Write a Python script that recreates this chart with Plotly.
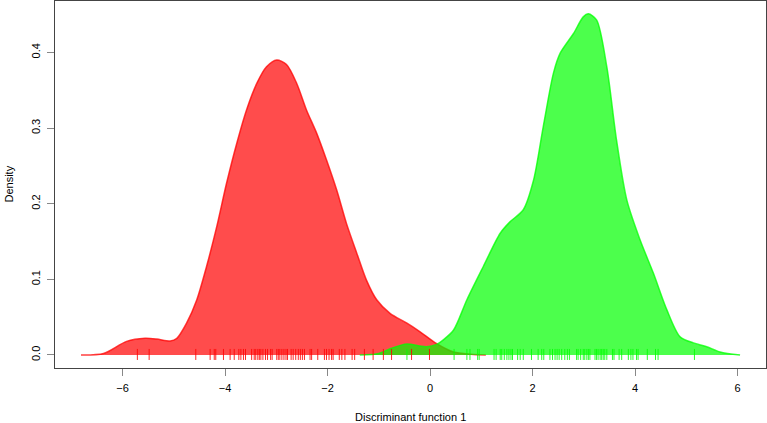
import plotly.graph_objects as go

# Density curve of group 1 (red)
red_x = [-6.81, -6.37, -5.92, -5.56, -5.33, -5.07, -4.94, -4.75, -4.55, -4.36, -4.16, -3.97,
         -3.77, -3.58, -3.38, -3.19, -2.99, -2.80, -2.60, -2.41, -2.21, -2.02, -1.82, -1.63,
         -1.43, -1.24, -1.04, -0.78, -0.45, -0.20, 0.13, 0.46, 0.80, 1.09]
red_y = [0.0, 0.002, 0.018, 0.022, 0.021, 0.0185, 0.022, 0.042, 0.073, 0.117, 0.170, 0.227,
         0.280, 0.324, 0.359, 0.381, 0.390, 0.384, 0.359, 0.324, 0.293, 0.258, 0.218, 0.174,
         0.135, 0.099, 0.073, 0.055, 0.042, 0.031, 0.015, 0.004, 0.001, 0.0]

# Density curve of group 2 (green)
green_x = [-1.37, -1.00, -0.75, -0.45, -0.20, -0.07, 0.13, 0.26, 0.46, 0.72, 1.04, 1.37, 1.56,
           1.82, 2.02, 2.21, 2.41, 2.54, 2.80, 2.99, 3.09, 3.25, 3.45, 3.64, 3.84, 4.10, 4.36,
           4.62, 4.88, 5.14, 5.40, 5.66, 6.05]
green_y = [0.0, 0.002, 0.009, 0.0145, 0.012, 0.011, 0.014, 0.020, 0.033, 0.073, 0.117, 0.161,
           0.176, 0.192, 0.231, 0.302, 0.373, 0.399, 0.425, 0.447, 0.451, 0.443, 0.381, 0.284,
           0.205, 0.152, 0.108, 0.060, 0.024, 0.016, 0.011, 0.004, 0.0]

# Rug (individual discriminant scores)
red_rug = [-5.71, -5.48, -4.57, -4.29, -4.21, -4.18, -4.03, -3.90, -3.82, -3.73, -3.69, -3.64,
           -3.60, -3.48, -3.43, -3.40, -3.36, -3.33, -3.30, -3.26, -3.21, -3.17, -3.11, -3.08,
           -2.99, -2.96, -2.93, -2.89, -2.85, -2.81, -2.78, -2.71, -2.67, -2.62, -2.57, -2.53,
           -2.49, -2.45, -2.34, -2.31, -2.19, -2.06, -2.02, -1.97, -1.92, -1.89, -1.77, -1.72,
           -1.66, -1.52, -1.47, -1.28, -1.11, -0.91, -0.75, -0.36, -0.01]
green_rug = [-0.45, 0.47, 0.72, 0.78, 0.93, 0.96, 1.25, 1.29, 1.37, 1.40, 1.45, 1.50, 1.54, 1.58,
             1.61, 1.71, 1.76, 1.82, 1.98, 2.11, 2.18, 2.22, 2.34, 2.39, 2.44, 2.48, 2.52, 2.57,
             2.63, 2.68, 2.72, 2.86, 2.89, 2.94, 2.99, 3.02, 3.06, 3.09, 3.12, 3.22, 3.25, 3.28,
             3.32, 3.35, 3.38, 3.41, 3.45, 3.56, 3.59, 3.69, 3.74, 3.87, 3.92, 3.96, 4.03, 4.06,
             4.24, 4.40, 4.45, 5.16]

x_ticks = [-6, -4, -2, 0, 2, 4, 6]
y_ticks = [0.0, 0.1, 0.2, 0.3, 0.4]
y_tick_text = ["0.0", "0.1", "0.2", "0.3", "0.4"]
x_title = "Discriminant function 1"
y_title = "Density"

RUG_LO, RUG_HI = -0.0066, 0.008


def rug_xy(vals):
    xs, ys = [], []
    for v in vals:
        xs += [v, v, None]
        ys += [RUG_LO, RUG_HI, None]
    return xs, ys


fig = go.Figure()
fig.add_trace(go.Scatter(x=red_x, y=red_y, mode="lines", line=dict(color="rgba(255,0,0,0.75)", width=1.5, shape="spline", smoothing=0.8),
                         fill="tozeroy", fillcolor="rgba(255,0,0,0.7)", hoverinfo="skip"))
fig.add_trace(go.Scatter(x=green_x, y=green_y, mode="lines", line=dict(color="rgba(0,255,0,0.75)", width=1.5, shape="spline", smoothing=0.8),
                         fill="tozeroy", fillcolor="rgba(0,255,0,0.7)", hoverinfo="skip"))
rx, ry = rug_xy(red_rug)
fig.add_trace(go.Scatter(x=rx, y=ry, mode="lines", line=dict(color="rgba(255,0,0,0.85)", width=1), hoverinfo="skip"))
gx, gy = rug_xy(green_rug)
fig.add_trace(go.Scatter(x=gx, y=gy, mode="lines", line=dict(color="rgba(0,255,0,0.85)", width=1), hoverinfo="skip"))

fig.update_layout(
    width=767, height=423,
    margin=dict(l=55, r=1, t=1, b=55, autoexpand=False),
    paper_bgcolor="white", plot_bgcolor="white",
    showlegend=False,
    font=dict(family="Liberation Sans, Arial, sans-serif", size=11, color="black"),
    xaxis=dict(range=[-7.317, 6.556], tickvals=x_ticks, ticks="outside", ticklen=7, tickcolor="#888",
               showgrid=False, zeroline=False, showline=True, linecolor="#444", linewidth=1, mirror=True,
               automargin=False, ticklabelstandoff=3),
    yaxis=dict(range=[-0.0172, 0.468], tickvals=y_ticks, ticktext=y_tick_text, ticks="outside", ticklen=7,
               tickcolor="#888", tickangle=-90, showgrid=False, zeroline=False, showline=True,
               linecolor="#444", linewidth=1, mirror=True, automargin=False, ticklabelstandoff=3),
    annotations=[
        dict(text=x_title, xref="paper", yref="paper", x=0.5, y=0, xanchor="center", yanchor="middle",
             yshift=-49, showarrow=False, font=dict(size=11)),
        dict(text=y_title, xref="paper", yref="paper", x=0, y=0.5, xanchor="center", yanchor="middle",
             xshift=-47, textangle=-90, showarrow=False, font=dict(size=11)),
    ],
)

fig.write_html("out.html", config={"displayModeBar": False},
               post_script="document.body.style.margin='0';document.body.style.padding='0';")
